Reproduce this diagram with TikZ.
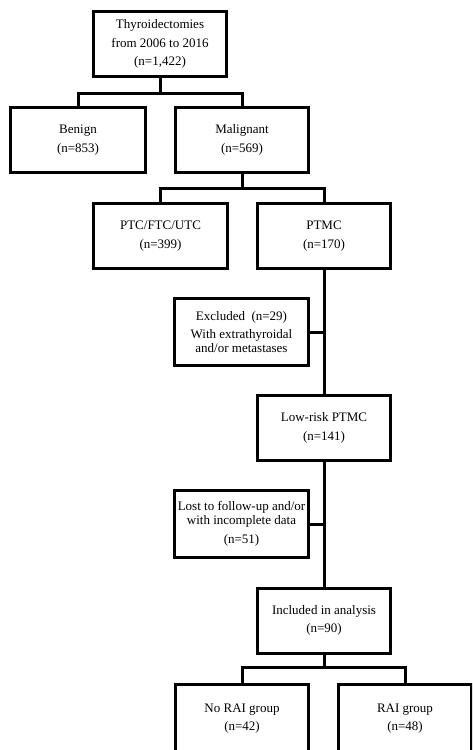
\documentclass[tikz,border=0pt]{standalone}
\usepackage{fontspec}
\setmainfont{Liberation Serif}
\begin{document}
\begin{tikzpicture}[x=1pt,y=-1pt,
  box/.style={draw=black, line width=3pt, minimum width=133.5pt, minimum height=65pt,
    inner sep=1pt, align=center, font=\fontsize{13}{18.5}\selectfont},
  tight/.style={font=\fontsize{13}{13.5}\selectfont},
  link/.style={draw=black, line width=3pt}]
\useasboundingbox (0,0) rectangle (472,750);
\clip (0,0) rectangle (472,750);
\fill[white] (0,0) rectangle (472,750);

\node[box] (top) at (160,44) {Thyroidectomies\\from 2006 to 2016\\(n=1,422)};
\node[box, minimum width=135pt] (benign) at (78,140) {Benign\\(n=853)};
\node[box] (malig) at (242,140) {Malignant\\(n=569)};
\node[box] (ptc) at (160.5,236) {PTC/FTC/UTC\\(n=399)};
\node[box] (ptmc) at (324,236) {PTMC\\(n=170)};
\node[box, tight, minimum height=67pt] (excl) at (241.5,332) {Excluded\ \ (n=29)\\[4.5pt]With extrathyroidal\\and/or metastases};
\node[box] (low) at (324,428) {Low-risk PTMC\\(n=141)};
\node[box, tight, minimum height=67pt] (lost) at (241.5,524) {Lost to follow-up and/or\\with incomplete data\\[6pt](n=51)};
\node[box] (incl) at (324,620.5) {Included in analysis\\(n=90)};
\node[box, minimum height=68pt] (norai) at (242,718.5) {No RAI group\\[-1pt](n=42)};
\node[box, minimum height=68pt] (rai) at (405,718.5) {RAI group\\[-1pt](n=48)};

\coordinate (j1) at (160,93);
\coordinate (j2) at (242,188);
\coordinate (j3) at (324,667);

\draw[link] (top.south) -- (j1);
\draw[link] (benign.north) |- (j1) -| (malig.north);
\draw[link] (malig.south) -- (j2);
\draw[link] (ptc.north) |- (j2) -| (ptmc.north);
\draw[link] (ptmc.south) -- (low.north);
\draw[link] (excl.east) -- (excl.east -| ptmc.south);
\draw[link] (low.south) -- (incl.north);
\draw[link] (lost.east) -- (lost.east -| low.south);
\draw[link] (incl.south) -- (j3);
\draw[link] (norai.north) |- (j3) -| (rai.north);
\end{tikzpicture}
\end{document}
